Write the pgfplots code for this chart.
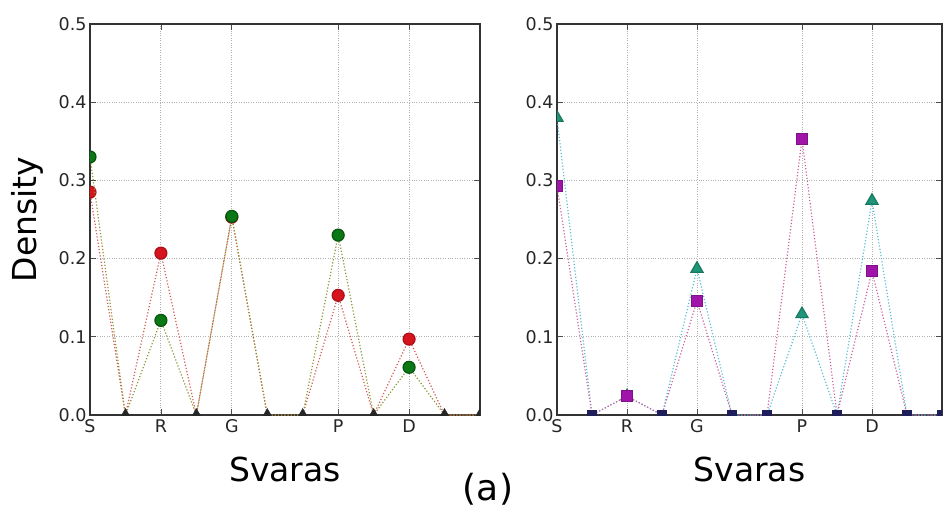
\documentclass[border=0pt]{standalone}
\usepackage{fontspec}
\setmainfont{DejaVu Sans}
\usepackage{pgfplots}
\pgfplotsset{compat=1.18}

\definecolor{ptRed}{RGB}{214,20,30}
\definecolor{ptGreen}{RGB}{10,120,20}
\definecolor{ptTeal}{RGB}{30,150,120}
\definecolor{ptPurple}{RGB}{160,20,170}
\definecolor{ptNavy}{RGB}{30,30,90}
\definecolor{lnRed}{RGB}{215,90,90}
\definecolor{lnOlive}{RGB}{140,150,50}
\definecolor{lnCyan}{RGB}{90,190,215}
\definecolor{lnPink}{RGB}{205,100,160}

\pgfplotsset{
    svaras/.style={
            scale only axis,
            xmin=0, xmax=11,
            ymin=0, ymax=0.5,
            xtick={0,2,4,7,9},
            xticklabels={S,R,G,P,D},
            ytick={0,0.1,0.2,0.3,0.4,0.5},
            yticklabels={0.0,0.1,0.2,0.3,0.4,0.5},
            tick label style={font=\fontsize{17.5}{20}\selectfont, text=black!85},
            xticklabel style={yshift=-1pt},
            grid=major,
            major grid style={gray!60, dotted, line width=0.9pt},
            axis line style={black!80, line width=1.3pt},
            tick style={black!70, line width=0.8pt},
            major tick length=6pt,
            tick align=inside,
            clip marker paths=true,
            label style={font=\fontsize{33}{38}\selectfont},
            xlabel style={at={(axis description cs:0.5,-0.1713)}, anchor=base},
            xlabel={Svaras},
        },
}

\begin{document}
\begin{tikzpicture}[x=1pt, y=1pt]
    \useasboundingbox (0pt,0pt) rectangle (946pt,512pt);

    % left panel
    \begin{axis}[
            svaras,
            at={(90pt,97pt)}, anchor=south west,
            width=390pt, height=391pt,
            ylabel={Density},
            ylabel style={at={(axis description cs:-0.138,0.5)}, anchor=base},
        ]
        \addplot[lnRed, dotted, line width=1.2pt, mark=*, mark size=6pt,
            mark indices={1,3,5,8,10},
            mark options={solid, fill=ptRed, draw=ptRed!80!black}]
        coordinates {(0,0.285)(1,0)(2,0.207)(3,0)(4,0.253)(5,0)(6,0)(7,0.153)(8,0)(9,0.097)(10,0)(11,0)};
        \addplot[lnOlive, dotted, line width=1.2pt, mark=*, mark size=6pt,
            mark indices={1,3,5,8,10},
            mark options={solid, fill=ptGreen, draw=ptGreen!70!black}]
        coordinates {(0,0.330)(1,0)(2,0.121)(3,0)(4,0.254)(5,0)(6,0)(7,0.230)(8,0)(9,0.061)(10,0)(11,0)};
        % zero bins
        \addplot[only marks, mark=triangle*, mark size=6.5pt,
            mark options={fill=black!85, draw=black!85}]
        coordinates {(1,0)(3,0)(5,0)(6,0)(8,0)(10,0)(11,0)};
    \end{axis}

    % right panel
    \begin{axis}[
            svaras,
            at={(557pt,97pt)}, anchor=south west,
            width=385pt, height=391pt,
        ]
        \addplot[lnCyan, dotted, line width=1.2pt, mark=triangle*, mark size=7pt,
            mark indices={1,3,5,8,10},
            mark options={solid, fill=ptTeal, draw=ptTeal!80!black}]
        coordinates {(0,0.380)(1,0)(2,0.024)(3,0)(4,0.187)(5,0)(6,0)(7,0.129)(8,0)(9,0.274)(10,0)(11,0)};
        \addplot[lnPink, dotted, line width=1.2pt, mark=square*, mark size=5.5pt,
            mark indices={1,3,5,8,10},
            mark options={solid, fill=ptPurple, draw=ptPurple!80!black}]
        coordinates {(0,0.293)(1,0)(2,0.024)(3,0)(4,0.146)(5,0)(6,0)(7,0.353)(8,0)(9,0.184)(10,0)(11,0)};
        % zero bins
        \addplot[only marks, mark=square*, mark size=4.5pt,
            mark options={fill=ptNavy, draw=ptNavy}]
        coordinates {(1,0)(3,0)(5,0)(6,0)(8,0)(10,0)(11,0)};
    \end{axis}

    \node[anchor=base, font=\fontsize{36}{40}\selectfont] at (488pt,12pt) {(a)};
\end{tikzpicture}
\end{document}
